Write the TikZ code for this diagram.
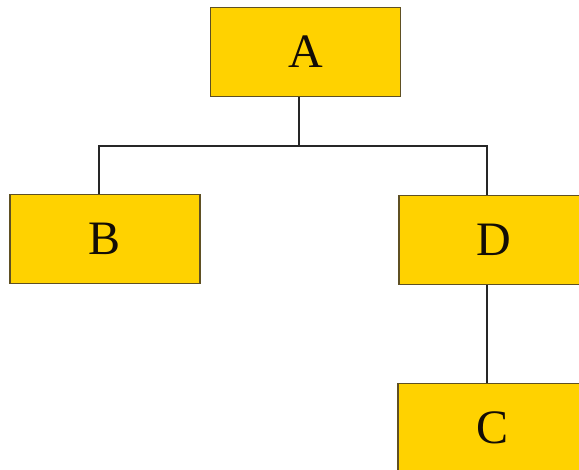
\documentclass[tikz,border=0pt]{standalone}
\usepackage{fontspec}
\setmainfont{Liberation Serif}
\usetikzlibrary{positioning}
\definecolor{boxfill}{RGB}{255,210,0}
\definecolor{boxline}{RGB}{95,80,35}
\begin{document}
\begin{tikzpicture}[x=1pt,y=1pt,
  orgbox/.style={draw=boxline,fill=boxfill,line width=1.3pt,minimum width=190pt,minimum height=89pt,inner sep=0pt,font=\fontsize{48}{50}\selectfont,text=black!90!brown},
  link/.style={draw=black!85,line width=1.3pt}]
\useasboundingbox (0,0) rectangle (579,470);
\clip (0,0) rectangle (579,470);
\node[orgbox] (A) at (305.5,418) {A};
\node[orgbox] (B) at (105,231) {B};
\node[orgbox] (D) at (494,230) {D};
\node[orgbox] (C) at (493,42) {C};
\coordinate (bus) at (0,324);
\draw[link] ([xshift=-6.5pt]A.south) -- ([xshift=-6.5pt]A.south |- bus);
\draw[link] ([xshift=-6pt]B.north) |- ([xshift=-7pt]D.north |- bus) -- ([xshift=-7pt]D.north);
\draw[link] ([xshift=-7pt]D.south) -- ([xshift=-6pt]C.north);
\end{tikzpicture}
\end{document}
